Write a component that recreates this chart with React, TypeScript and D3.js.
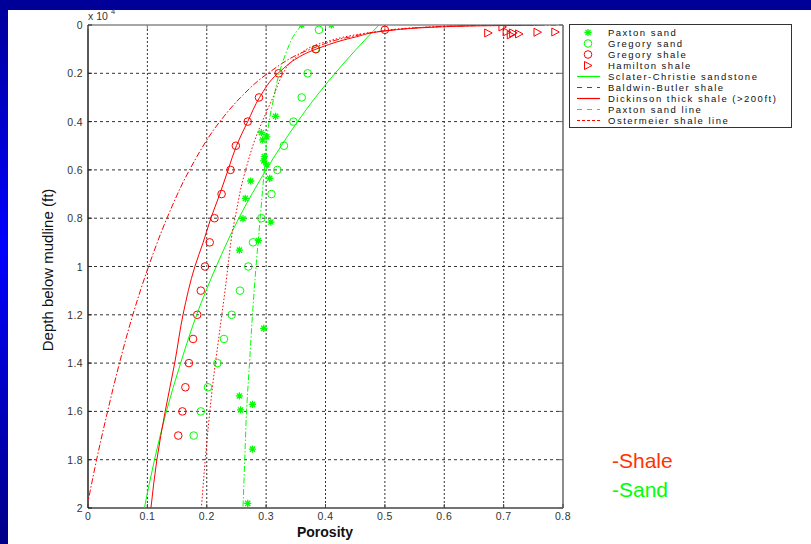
import React from "react";
import * as d3 from "d3";

// ---------- data (porosity fraction, depth in ft) ----------
const porosityTicks = [0, 0.1, 0.2, 0.3, 0.4, 0.5, 0.6, 0.7, 0.8];
const porosityTickLabels = ["0", "0.1", "0.2", "0.3", "0.4", "0.5", "0.6", "0.7", "0.8"];
const depthTicks = [0, 2000, 4000, 6000, 8000, 10000, 12000, 14000, 16000, 18000, 20000];
const depthTickLabels = ["0", "0.2", "0.4", "0.6", "0.8", "1", "1.2", "1.4", "1.6", "1.8", "2"];

const paxtonSandPorosity = [0.360, 0.410, 0.316, 0.292, 0.301, 0.294, 0.297, 0.296, 0.301, 0.306, 0.274, 0.265, 0.261, 0.308, 0.287, 0.255, 0.296, 0.255, 0.277, 0.257, 0.277, 0.269];
const paxtonSandDepth = [0, 0, 3780, 4460, 4630, 4760, 5450, 5630, 5790, 6350, 6460, 7180, 8020, 8160, 8930, 9320, 12560, 15360, 15710, 15940, 17560, 19810];

const gregoryDepth = [200, 1000, 2000, 3000, 4000, 5000, 6000, 7000, 8000, 9000, 10000, 11000, 12000, 13000, 14000, 15000, 16000, 17000];
const gregorySandPorosity = [0.389, 0.383, 0.370, 0.360, 0.346, 0.330, 0.319, 0.309, 0.292, 0.278, 0.270, 0.256, 0.242, 0.229, 0.218, 0.202, 0.190, 0.178];
const gregoryShalePorosity = [0.500, 0.384, 0.321, 0.288, 0.269, 0.249, 0.240, 0.225, 0.213, 0.205, 0.197, 0.190, 0.184, 0.177, 0.170, 0.164, 0.159, 0.152];

const hamiltonPorosity = [0.674, 0.698, 0.705, 0.712, 0.716, 0.726, 0.757, 0.787];
const hamiltonDepth = [330, 80, 290, 410, 330, 370, 300, 290];

const sclaterDepth = [0, 1000, 2000, 3000, 4000, 6000, 8000, 10000, 12000, 14000, 16000, 18000, 20000];
const sclaterPorosity = [0.490, 0.452, 0.416, 0.383, 0.353, 0.300, 0.254, 0.216, 0.183, 0.156, 0.132, 0.112, 0.095];

const baldwinDepth = [1, 10, 50, 100, 200, 500, 1000, 2000, 3000, 4000, 6000, 8000, 10000, 12000, 14000, 16000, 18000, 19751];
const baldwinPorosity = [0.789, 0.697, 0.610, 0.565, 0.515, 0.440, 0.375, 0.303, 0.257, 0.222, 0.171, 0.133, 0.102, 0.0755, 0.053, 0.033, 0.0145, 0];

const dickinsonDepth = [0, 50, 100, 250, 500, 1000, 2000, 3000, 4000, 5000, 6000, 7000, 8000, 9000, 10000, 12000, 14000, 16000, 18000, 20000];
const dickinsonPorosity = [0.76, 0.63, 0.575, 0.50, 0.45, 0.384, 0.320, 0.289, 0.269, 0.250, 0.236, 0.222, 0.207, 0.194, 0.180, 0.160, 0.146, 0.130, 0.116, 0.106];

const paxtonLineDepth = [0, 500, 1000, 2000, 3000, 4000, 6000, 8000, 10000, 12000, 14000, 16000, 18000, 20000];
const paxtonLinePorosity = [0.360, 0.345, 0.336, 0.322, 0.313, 0.305, 0.297, 0.290, 0.283, 0.277, 0.272, 0.267, 0.264, 0.261];

const ostermeierDepth = [0, 100, 300, 700, 1450, 2140, 2970, 3800, 4760, 5870, 6600, 7700, 8600, 9700, 10560, 12630, 14700, 17310, 20000];
const ostermeierPorosity = [0.66, 0.56, 0.48, 0.40, 0.345, 0.326, 0.312, 0.297, 0.281, 0.267, 0.259, 0.250, 0.243, 0.237, 0.233, 0.222, 0.211, 0.200, 0.191];

const legendLabels = [
  "Paxton sand",
  "Gregory sand",
  "Gregory shale",
  "Hamilton shale",
  "Sclater-Christie sandstone",
  "Baldwin-Butler shale",
  "Dickinson thick shale (>200ft)",
  "Paxton sand line",
  "Ostermeier shale line",
];

const GREEN = "#00ff00";
const RED = "#ff0000";

const W = 811;
const H = 544;
const plot = { left: 88, right: 563, top: 25, bottom: 508 };

const x = d3.scaleLinear().domain([0, 0.8]).range([plot.left, plot.right]);
const y = d3.scaleLinear().domain([0, 20000]).range([plot.top, plot.bottom]);

const zip = (p: number[], d: number[]) => p.map((v, i) => [v, d[i]] as [number, number]);

const lineGen = d3
  .line<[number, number]>()
  .x((d) => x(d[0]))
  .y((d) => y(d[1]))
  .curve(d3.curveMonotoneY);

const starPath = (s: number) => {
  const dd = s * 0.72;
  return `M${-s},0L${s},0M0,${-s}L0,${s}M${-dd},${-dd}L${dd},${dd}M${-dd},${dd}L${dd},${-dd}`;
};
const triPath = "M-3.5,-4L4,0L-3.5,4Z";

function Star({ cx, cy }: { cx: number; cy: number }) {
  return <path d={starPath(3.6)} transform={`translate(${cx},${cy})`} stroke={GREEN} strokeWidth={1.3} fill="none" />;
}
function Circ({ cx, cy, color }: { cx: number; cy: number; color: string }) {
  return <circle cx={cx} cy={cy} r={3.8} stroke={color} strokeWidth={1} fill="none" />;
}
function Tri({ cx, cy }: { cx: number; cy: number }) {
  return <path d={triPath} transform={`translate(${cx},${cy})`} stroke={RED} strokeWidth={1} fill="none" />;
}

const lineStyles = [
  { data: zip(sclaterPorosity, sclaterDepth), color: GREEN, dash: undefined, legDash: undefined },
  { data: zip(baldwinPorosity, baldwinDepth), color: RED, dash: "6,2,1.5,2", legDash: "5,5" },
  { data: zip(dickinsonPorosity, dickinsonDepth), color: RED, dash: undefined, legDash: undefined },
  { data: zip(paxtonLinePorosity, paxtonLineDepth), color: GREEN, dash: "6,2,1.5,2", legDash: "5,5" },
  { data: zip(ostermeierPorosity, ostermeierDepth), color: RED, dash: "1.5,2", legDash: "3,2" },
];

const narrow = "'Liberation Sans Narrow', 'Liberation Sans', Arial, sans-serif";

export default function App() {
  const legX = 569;
  const legY = 24;
  const rowH = 11;
  return (
    <svg width={W} height={H} style={{ position: "absolute", left: 0, top: 0, display: "block" }} fontFamily="'Liberation Sans', Arial, sans-serif">
      <defs>
        <linearGradient id="bg" x1="0" y1="0" x2="0" y2="1">
          <stop offset="0" stopColor="#000099" />
          <stop offset="0.45" stopColor="#0000ff" />
          <stop offset="1" stopColor="#000088" />
        </linearGradient>
        <clipPath id="clip">
          <rect x={plot.left} y={plot.top} width={plot.right - plot.left} height={plot.bottom - plot.top} />
        </clipPath>
      </defs>
      <rect x={0} y={0} width={W} height={H} fill="url(#bg)" />
      <rect x={0} y={0} width={W} height={10} fill="#000099" />
      <rect x={8} y={10} width={W - 8} height={H - 10} fill="#ffffff" />

      {/* grid */}
      {porosityTicks.slice(1, -1).map((t) => (
        <line key={"gx" + t} x1={x(t)} x2={x(t)} y1={plot.top} y2={plot.bottom} stroke="#333" strokeWidth={1} strokeDasharray="2,2" />
      ))}
      {depthTicks.slice(1, -1).map((t) => (
        <line key={"gy" + t} x1={plot.left} x2={plot.right} y1={y(t)} y2={y(t)} stroke="#333" strokeWidth={1} strokeDasharray="3,3" />
      ))}

      {/* frame */}
      <line x1={plot.left} x2={plot.right} y1={plot.top} y2={plot.top} stroke="#888" strokeWidth={1.5} />
      <line x1={plot.right} x2={plot.right} y1={plot.top} y2={plot.bottom} stroke="#666" strokeWidth={1.5} />
      <line x1={plot.left} x2={plot.right} y1={plot.bottom} y2={plot.bottom} stroke="#444" strokeWidth={1.5} />
      <line x1={plot.left} x2={plot.left} y1={plot.top} y2={plot.bottom} stroke="#222" strokeWidth={1.5} />
      {porosityTicks.map((t) => (
        <g key={"tx" + t}>
          <line x1={x(t)} x2={x(t)} y1={plot.bottom} y2={plot.bottom - 4} stroke="#444" />
          <line x1={x(t)} x2={x(t)} y1={plot.top} y2={plot.top + 4} stroke="#888" />
        </g>
      ))}
      {depthTicks.map((t) => (
        <g key={"ty" + t}>
          <line x1={plot.left} x2={plot.left + 4} y1={y(t)} y2={y(t)} stroke="#222" />
          <line x1={plot.right} x2={plot.right - 4} y1={y(t)} y2={y(t)} stroke="#666" />
        </g>
      ))}

      {/* tick labels */}
      {porosityTicks.map((t, i) => (
        <text key={"lx" + t} x={x(t)} y={plot.bottom + 12} textAnchor="middle" fontSize={10.5} fill="#333" letterSpacing={0.4}>
          {porosityTickLabels[i]}
        </text>
      ))}
      {depthTicks.map((t, i) => (
        <text key={"ly" + t} x={plot.left - 5} y={y(t) + 4} textAnchor="end" fontSize={10.5} fill="#333" letterSpacing={0.4}>
          {depthTickLabels[i]}
        </text>
      ))}
      <text x={plot.left} y={20} fontSize={10.5} fill="#333">
        x 10
      </text>
      <text x={plot.left + 23} y={14} fontSize={7.5} fill="#333">
        4
      </text>

      {/* axis labels */}
      <text x={325} y={537} textAnchor="middle" fontSize={14} fontWeight="bold" fill="#111">
        Porosity
      </text>
      <text transform="translate(53,270) rotate(-90)" textAnchor="middle" fontSize={15} fill="#111" fontFamily={narrow}>
        Depth below mudline (ft)
      </text>

      {/* markers and lines */}
      <g clipPath="url(#clip)">
        {paxtonSandPorosity.map((p, i) => (
          <Star key={"ps" + i} cx={x(p)} cy={y(paxtonSandDepth[i])} />
        ))}
        {gregorySandPorosity.map((p, i) => (
          <Circ key={"gs" + i} cx={x(p)} cy={y(gregoryDepth[i])} color={GREEN} />
        ))}
        {gregoryShalePorosity.map((p, i) => (
          <Circ key={"gsh" + i} cx={x(p)} cy={y(gregoryDepth[i])} color={RED} />
        ))}
        {hamiltonPorosity.map((p, i) => (
          <Tri key={"hs" + i} cx={x(p)} cy={y(hamiltonDepth[i])} />
        ))}
        {lineStyles.map((l, i) => (
          <path key={"ln" + i} d={lineGen(l.data) || ""} fill="none" stroke={l.color} strokeWidth={1} strokeDasharray={l.dash} />
        ))}
      </g>

      {/* legend */}
      <rect x={legX + 0.5} y={legY + 0.5} width={222} height={103} fill="#fff" stroke="#333" strokeWidth={1} />
      {legendLabels.map((lab, i) => {
        const cy = Math.round(legY + 8 + i * rowH) + 0.5;
        let sym: React.ReactNode = null;
        if (i === 0) sym = <Star cx={588} cy={cy} />;
        else if (i === 1) sym = <Circ cx={588} cy={cy} color={GREEN} />;
        else if (i === 2) sym = <Circ cx={588} cy={cy} color={RED} />;
        else if (i === 3) sym = <Tri cx={588} cy={cy} />;
        else {
          const st = lineStyles[i - 4];
          sym = <line x1={577} x2={600} y1={cy} y2={cy} stroke={st.color} strokeWidth={1.2} strokeDasharray={st.legDash} />;
        }
        return (
          <g key={"lg" + i}>
            {sym}
            <text x={608} y={cy + 3.5} fontSize={9.5} fill="#111" letterSpacing={1.5}>
              {lab}
            </text>
          </g>
        );
      })}

      {/* annotations */}
      <text x={612} y={468} fontSize={21} fill="#ff3300" fontFamily={narrow}>
        -Shale
      </text>
      <text x={612} y={497} fontSize={21} fill="#00ff00" fontFamily={narrow}>
        -Sand
      </text>
    </svg>
  );
}
